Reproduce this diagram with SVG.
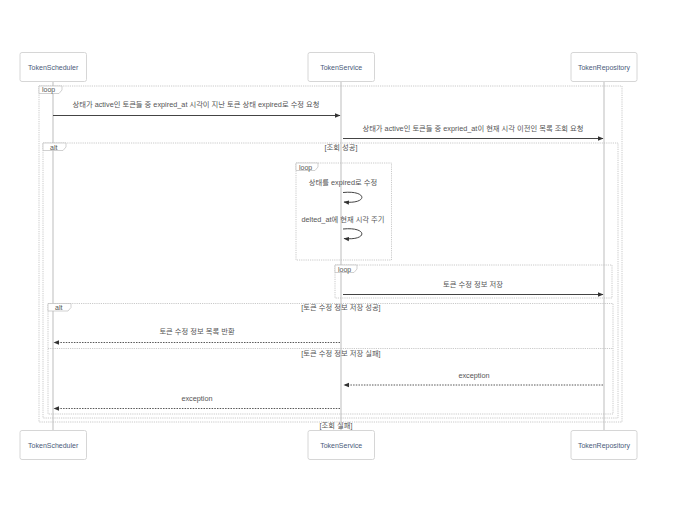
<svg xmlns="http://www.w3.org/2000/svg" width="680" height="510" viewBox="0 0 680 510">
<defs>
<style>
text{font-family:"Liberation Sans","Noto Sans CJK KR",sans-serif;font-size:7.3px;fill:#555;}
.pt{fill:#4a5a7a;text-anchor:middle;font-size:7px;}
.tl{font-size:7px;}
.mid{text-anchor:middle;}
.box{fill:#fff;stroke:#d6d6d6;stroke-width:1;}
.life{stroke:#c8c8c8;stroke-width:1.2;fill:none;}
.frame{fill:none;stroke:#bdbdbd;stroke-width:0.8;stroke-dasharray:1.2,1;}
.tab{fill:#fff;stroke:#bdbdbd;stroke-width:0.7;}
.msg{stroke:#444;stroke-width:1;fill:none;}
.ret{stroke:#444;stroke-width:0.9;fill:none;stroke-dasharray:1.5,1.2;}
.sep{stroke:#bdbdbd;stroke-width:0.8;stroke-dasharray:1.2,1;}
</style>
<marker id="ah" markerWidth="6" markerHeight="6" refX="5" refY="3" orient="auto" markerUnits="userSpaceOnUse">
<path d="M0,0.8 L5.5,3 L0,5.2 z" fill="#333"/>
</marker>
</defs>
<rect width="680" height="510" fill="#fff"/>

<g id="lifelines">
<line class="life" x1="53" y1="82" x2="53" y2="431"/>
<line class="life" x1="341" y1="82" x2="341" y2="431"/>
<line class="life" x1="604" y1="82" x2="604" y2="431"/>
</g>

<g id="frames">
<rect class="frame" x="39" y="86" width="583" height="336"/>
<path class="tab" d="M39,86 H62 V90 L59,93.5 H39 Z"/>
<text class="tl" x="42" y="92">loop</text>

<rect class="frame" x="43" y="143" width="575" height="275"/>
<path class="tab" d="M43,143 H66 V147 L63,150.5 H43 Z"/>
<text class="tl" x="50" y="149.5">alt</text>
<text class="mid" x="341" y="150">[조회 성공]</text>
<text class="mid" x="336" y="427.5">[조회 실패]</text>

<rect class="frame" x="296" y="163" width="95.5" height="97"/>
<path class="tab" d="M296,163 H318 V167 L315,170.5 H296 Z"/>
<text class="tl" x="299" y="169.5">loop</text>

<rect class="frame" x="335" y="265" width="277" height="33"/>
<path class="tab" d="M335,265 H357 V269 L354,272.5 H335 Z"/>
<text class="tl" x="338" y="271.5">loop</text>

<rect class="frame" x="48" y="303.5" width="565" height="110.5"/>
<path class="tab" d="M48,303.5 H71 V307.5 L68,311 H48 Z"/>
<text class="tl" x="55" y="310">alt</text>
<text class="mid" x="341" y="310">[토큰 수정 정보 저장 성공]</text>
<line class="sep" x1="48" y1="348.5" x2="613" y2="348.5"/>
<text class="mid" x="341" y="356">[토큰 수정 정보 저장 실패]</text>
</g>

<g id="connectors">
<text class="mid" x="196" y="107">상태가 active인 토큰들 중 expired_at 시각이 지난 토큰 상태 expired로 수정 요청</text>
<line class="msg" x1="53" y1="115.5" x2="340" y2="115.5" marker-end="url(#ah)"/>

<text class="mid" x="473" y="130.5">상태가 active인 토큰들 중 expried_at이 현재 시각 이전인 목록 조회 요청</text>
<line class="msg" x1="343" y1="138.5" x2="603" y2="138.5" marker-end="url(#ah)"/>

<text class="mid" x="343" y="185">상태를 expired로 수정</text>
<path class="msg" d="M343,192.5 C368,190 368,204.5 344,202" marker-end="url(#ah)"/>

<text class="mid" x="343" y="221.5">delted_at에 현재 시각 주기</text>
<path class="msg" d="M343,229 C368,226.5 368,241 344,238.5" marker-end="url(#ah)"/>

<text class="mid" x="473" y="286.5">토큰 수정 정보 저장</text>
<line class="msg" x1="343" y1="294.5" x2="603" y2="294.5" marker-end="url(#ah)"/>

<text class="mid" x="197" y="333.5">토큰 수정 정보 목록 반환</text>
<line class="ret" x1="340" y1="342.5" x2="54" y2="342.5" marker-end="url(#ah)"/>

<text class="mid" x="474" y="378">exception</text>
<line class="ret" x1="603" y1="385" x2="344" y2="385" marker-end="url(#ah)"/>

<text class="mid" x="197" y="400.5">exception</text>
<line class="ret" x1="340" y1="408.5" x2="54" y2="408.5" marker-end="url(#ah)"/>
</g>

<g id="TokenScheduler">
<rect class="box" x="20" y="52.5" width="66.5" height="29" rx="2"/>
<text class="pt" x="53.2" y="69.5">TokenScheduler</text>
<rect class="box" x="20" y="430.5" width="66.5" height="29" rx="2"/>
<text class="pt" x="53.2" y="447.5">TokenScheduler</text>
</g>
<g id="TokenService">
<rect class="box" x="308" y="52.5" width="66.5" height="29" rx="2"/>
<text class="pt" x="341.2" y="69.5">TokenService</text>
<rect class="box" x="308" y="430.5" width="66.5" height="29" rx="2"/>
<text class="pt" x="341.2" y="447.5">TokenService</text>
</g>
<g id="TokenRepository">
<rect class="box" x="571" y="52.5" width="66" height="29" rx="2"/>
<text class="pt" x="604" y="69.5">TokenRepository</text>
<rect class="box" x="571" y="430.5" width="66" height="29" rx="2"/>
<text class="pt" x="604" y="447.5">TokenRepository</text>
</g>
</svg>
